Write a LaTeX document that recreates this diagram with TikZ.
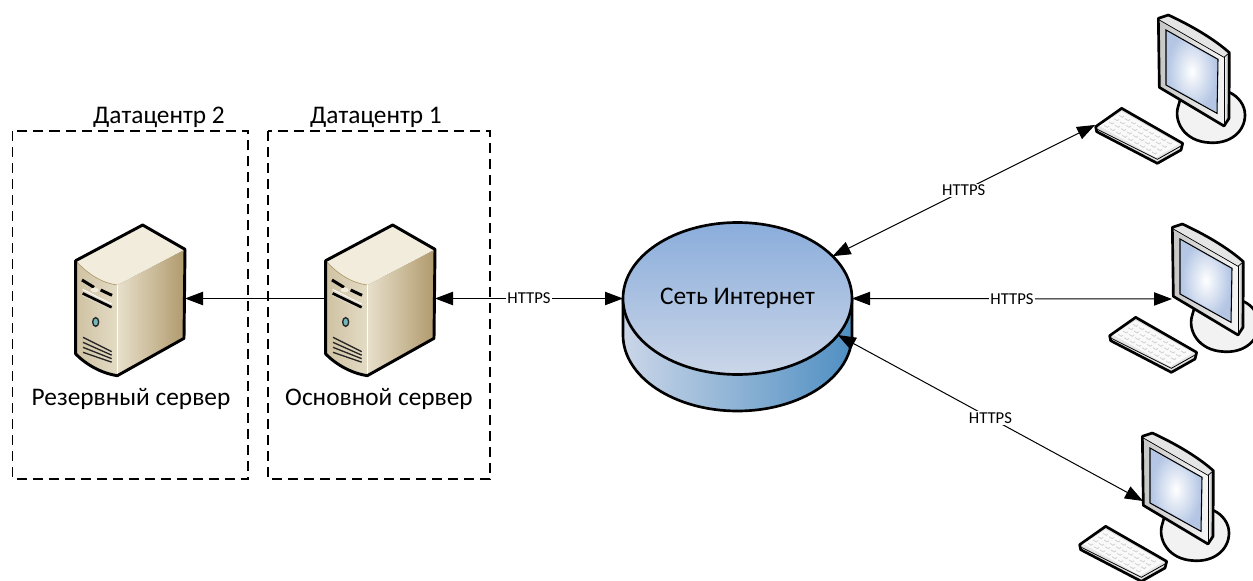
\documentclass[tikz,border=0pt]{standalone}
\usepackage{fontspec}
\setmainfont{Carlito}
\usetikzlibrary{shapes.geometric}
\usetikzlibrary{arrows.meta}
\definecolor{netTop}{HTML}{8AADDB}
\definecolor{netBot}{HTML}{CBD6E8}
\definecolor{netDark}{HTML}{4F8FC2}
\definecolor{srvDark}{HTML}{B09A6C}
\definecolor{srvMid}{HTML}{CFC2A2}
\definecolor{srvLight}{HTML}{F2ECDD}
\definecolor{scrEdge}{HTML}{B4C6E4}
\tikzset{
  dcbox/.style={line width=.85pt,dash pattern=on 7.5pt off 4.5pt},
  link/.style={line width=.75pt,{Triangle[length=13.5pt,width=10pt]}-{Triangle[length=13.5pt,width=10pt]}},
  oneway/.style={line width=.75pt,-{Triangle[length=13.5pt,width=10pt]}},
  lbl/.style={fill=white,inner sep=1pt,font=\fontsize{12.5}{14}\selectfont},
  txt/.style={inner sep=0pt,font=\fontsize{19}{22}\selectfont},
  slot/.style={minimum width=82.5pt,minimum height=112pt,inner sep=0pt,outer sep=0pt},
  edge/.style={line width=2pt,line join=round},
  server/.pic={
    \fill[left color=srvMid,right color=srvLight!60!srvMid] (47,152) .. controls (85,195) and (130,220) .. (172,225) -- (172,497) .. controls (125,490) and (80,465) .. (47,432) -- cycle;
    \fill[left color=srvLight!70!srvMid,middle color=srvLight!50!srvMid,right color=srvDark] (172,225) -- (375,118) -- (372,385) -- (172,497) -- cycle;
    \fill[srvLight] (47,152) -- (248,45) -- (375,118) -- (172,225) .. controls (130,220) and (85,195) .. (47,152) -- cycle;
    \draw[line width=.5pt,srvDark] (47,152) .. controls (85,195) and (130,220) .. (172,225);
    \draw[line width=.6pt,white] (172,225) -- (172,497);
    \draw[line width=2.2pt] (66,210) -- (102,232);
    \draw[line width=2.2pt] (122,240) -- (156,256);
    \fill[srvLight] (104,240) circle (12 and 7);
    \fill[srvMid!60!white] (68,238) -- (155,282) -- (155,300) -- (68,258) -- cycle;
    \draw[line width=2pt] (68,250) -- (155,292);
    \draw[line width=.6pt,white] (68,238) -- (155,282);
    \fill[teal!55!white,draw=black!85,line width=1pt] (107,336) circle (9 and 13);
    \foreach \yy in {0,15,30,45}
      \draw[line width=1pt,black!85] (69,{382+\yy}) -- (155,{425+\yy*.7});
    \draw[edge,line width=2.2pt] (47,152) -- (248,45) -- (375,118) -- (372,385) -- (172,497) .. controls (125,490) and (80,465) .. (47,432) -- cycle;
  },
  computer/.pic={
    % base
    \draw[edge,fill=black!5] (295,318) .. controls (280,360) and (310,425) .. (390,428) .. controls (450,432) and (495,395) .. (495,345) .. controls (495,315) and (475,290) .. (450,278) -- (300,300) -- cycle;
    % monitor
    \fill[black!10] (235,55) -- (265,45) .. controls (330,75) and (400,115) .. (448,158) -- (432,172) -- (238,60) -- cycle;
    \fill[left color=white,right color=black!40] (432,172) -- (448,158) -- (447,355) -- (432,378) -- cycle;
    \fill[left color=black!22,right color=black!4] (238,60) -- (432,172) -- (432,378) -- (238,262) -- cycle;
    \draw[line width=.8pt,fill=scrEdge] (258,90) -- (414,178) -- (411,340) -- (258,255) -- cycle;
    \shade[inner color=white,outer color=scrEdge] (261,95) -- (410,181) -- (407,334) -- (261,251) -- cycle;
    \draw[line width=.5pt] (238,60) -- (432,172) -- (448,158);
    \draw[line width=.5pt] (432,172) -- (432,378);
    \draw[edge] (235,55) -- (265,45) .. controls (330,75) and (400,115) .. (448,158) -- (447,355) -- (432,378) -- (238,262) -- cycle;
    % keyboard
    \draw[edge,fill=black!10] (47,380) -- (125,325) -- (308,430) -- (303,450) -- (232,490) -- (50,395) -- cycle;
    \fill[black!2] (58,378) -- (125,335) -- (297,432) -- (228,472) -- cycle;
    \draw[line width=.6pt] (52,388) -- (232,478) -- (303,438);
    \foreach \i in {0,...,8}
      \foreach \j in {0,...,3}
        \draw[line width=.6pt,black!18] ({72+\i*18+\j*15},{376+\i*10-\j*10}) -- ++(10,6) -- ++(5,-4);
  },
}
\begin{document}
\begin{tikzpicture}[x=.75pt,y=-.75pt]
\useasboundingbox (0,0) rectangle (1253,581);
\clip (0,0) rectangle (1253,581);
% datacenters
\draw[dcbox] (12.5,131) rectangle (248,479);
\draw[dcbox] (268,131) rectangle (490,479);
\node[txt,fill=white,inner sep=.5pt] (dcTwo) at (159,117) {Датацентр 2};
\node[txt,fill=white,inner sep=.5pt] (dcOne) at (376,117) {Датацентр 1};
% servers
\node[slot] (srvBack) at (130,298.5) {};
\node[slot] (srvMain) at (380,298.5) {};
\pic[scale=1/3] at (60,210) {server};
\pic[scale=1/3] at (310,210) {server};
\node[txt] (srvBackTxt) at (131,399) {Резервный сервер};
\node[txt] (srvMainTxt) at (379,399) {Основной сервер};
% internet
\draw[edge,left color=netBot,right color=netDark] (623,299) -- (623,335) arc[start angle=180,end angle=0,x radius=114.5,y radius=76] -- (852,299) -- cycle;
\node[ellipse,draw,line width=2pt,top color=netTop,bottom color=netBot,minimum width=171.75pt,minimum height=114pt,inner sep=0pt,outer sep=0pt,font=\fontsize{19}{22}\selectfont] (net) at (737.5,298.5) {Сеть Интернет};
% computers
\pic[scale=1/3] at (1080,0) {computer};
\pic[scale=1/3] at (1094,209) {computer};
\pic[scale=1/3] at (1064,418) {computer};
\coordinate (compA) at (1095,125);
\coordinate (compB) at (1172,299);
\coordinate (compC) at (1143,501);
% links
\draw[oneway] (srvMain.west) -- (srvBack.east);
\draw[link] (srvMain.east) -- node[lbl] (httpsMain) {HTTPS} (net.west);
\draw[link] (net.24) -- node[lbl] (httpsA) {HTTPS} (compA);
\draw[link] (net.east) -- node[lbl] (httpsB) {HTTPS} (compB);
\draw[link] (net.-20) -- node[lbl] (httpsC) {HTTPS} (compC);
\end{tikzpicture}
\end{document}
